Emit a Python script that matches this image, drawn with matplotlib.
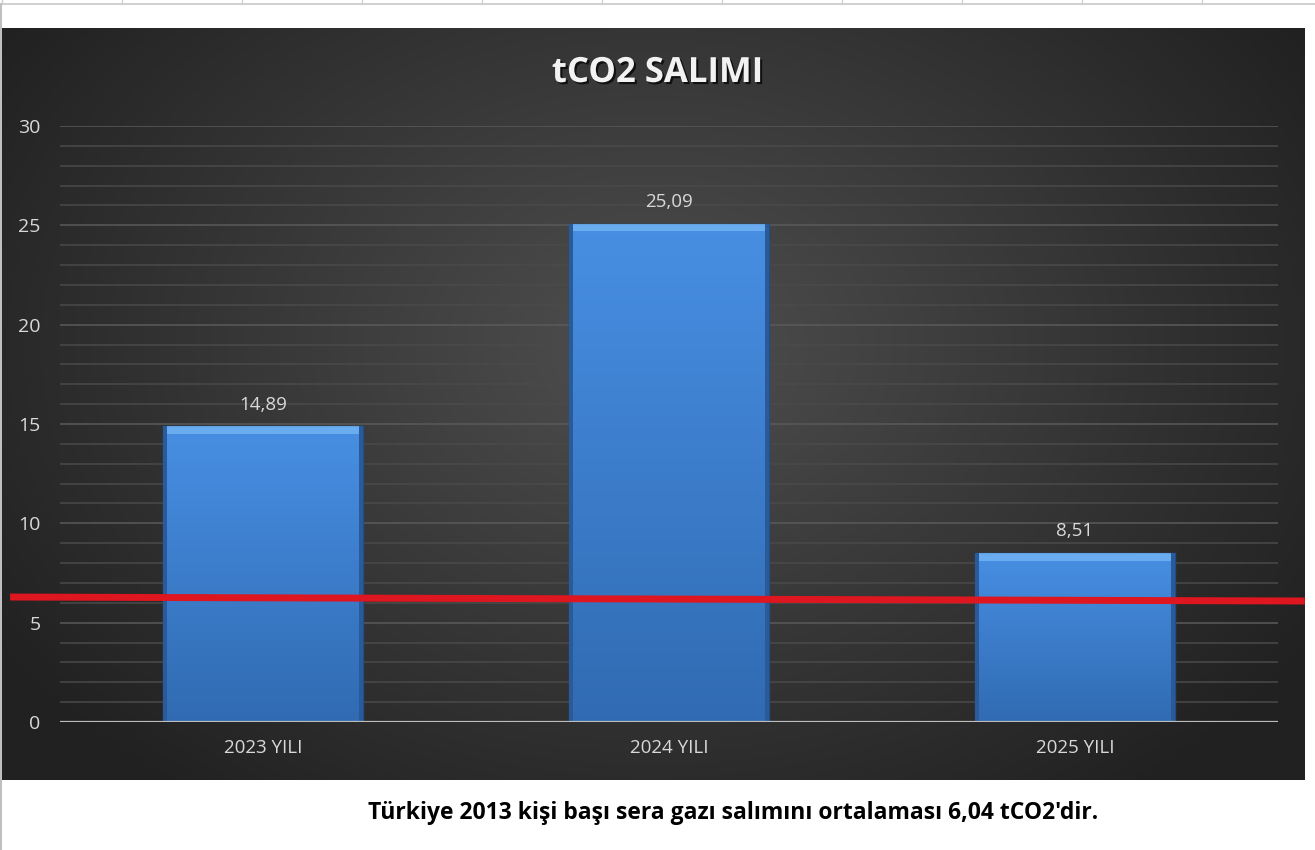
"""
tCO2 emissions per year, Excel-style dark chart with reference line.
"""
import numpy as np
import matplotlib
matplotlib.use("Agg")
import matplotlib.pyplot as plt
import matplotlib.patheffects as pe
from matplotlib.patches import Rectangle

plt.rcParams['font.family'] = ['Open Sans', 'DejaVu Sans']

CATEGORIES = ["2023 YILI", "2024 YILI", "2025 YILI"]
VALUES = [14.89, 25.09, 8.51]
VALUE_LABELS = ["14,89", "25,09", "8,51"]
Y_TICKS = [0, 5, 10, 15, 20, 25, 30]
# hand-drawn red line in the screenshot (left end, right end)
REF_LINE = [6.29, 6.09]
TITLE = "tCO2 SALIMI"
CAPTION = "Türkiye 2013 kişi başı sera gazı salımını ortalaması 6,04 tCO2'dir."

W, H = 1315, 850
fig = plt.figure(figsize=(W / 100, H / 100), dpi=100)
fig.patch.set_facecolor("white")

# spreadsheet strip at the very top
strip = fig.add_axes([0, 0, 1, 1], zorder=-5)
strip.set_xlim(0, W)
strip.set_ylim(H, 0)
strip.axis("off")
strip.plot([0, W], [4, 4], color="#c8c8c8", lw=1.2)
for xc in range(2, W, 120):
    strip.plot([xc, xc], [0, 4], color="#d0d0d0", lw=1)
strip.plot([1, 1], [4, H], color="#c0c0c0", lw=1.5)

# chart area with radial gradient
bg = fig.add_axes([2 / W, 1 - 780 / H, (1305 - 2) / W, (780 - 28) / H], zorder=-2)
gx, gy = np.meshgrid(np.linspace(-1, 1, 400), np.linspace(-1, 1, 260))
r = np.clip(np.sqrt((gx / 1.0) ** 2 + ((gy + 0.15) / 1.25) ** 2), 0, 1.2)
shade = 0.31 - 0.15 * r
bg.imshow(np.dstack([shade, shade, shade]), aspect="auto", extent=[0, 1, 0, 1],
          interpolation="bilinear")
bg.set_xlim(0, 1)
bg.set_ylim(0, 1)
bg.axis("off")

ax = fig.add_axes([60 / W, 1 - 722 / H, (1278 - 60) / W, (722 - 126) / H])
ax.patch.set_alpha(0)
x = np.arange(len(CATEGORIES))

# gridlines
for v in range(1, 31):
    col = "#5a5a5a" if v % 5 == 0 else "#4a4a4a"
    ax.axhline(v, color=col, lw=1.1, zorder=0)
ax.axhline(0, color="#bdbdbd", lw=1.6, zorder=3)

for s in ax.spines.values():
    s.set_visible(False)

# bars with vertical gradient + bevelled top
bw = 0.495
grad = np.linspace(0, 1, 200).reshape(-1, 1)
top_c = np.array([0.28, 0.56, 0.89])
bot_c = np.array([0.19, 0.42, 0.70])
grad_img = top_c * (1 - grad[..., None]) + bot_c * grad[..., None]
grad_img = grad_img.reshape(200, 1, 3)
for xi, v in zip(x, VALUES):
    rect = Rectangle((xi - bw / 2, 0), bw, v, facecolor="none",
                     edgecolor="#1f4f8a", lw=1.0, zorder=2)
    ax.add_patch(rect)
    im = ax.imshow(grad_img, aspect="auto", extent=[xi - bw / 2, xi + bw / 2, 0, v],
                   origin="upper", zorder=1.5, interpolation="bilinear")
    im.set_clip_path(rect)
    ax.add_patch(Rectangle((xi - bw / 2 + 0.01, v - 0.4), bw - 0.02, 0.4,
                           facecolor="#70b2f2", edgecolor="none", alpha=0.85, zorder=2.1))
    ax.add_patch(Rectangle((xi - bw / 2, 0), 0.012, v, facecolor="#2a5a98",
                           edgecolor="none", zorder=2.1))
    ax.add_patch(Rectangle((xi + bw / 2 - 0.012, 0), 0.012, v, facecolor="#2a5a98",
                           edgecolor="none", zorder=2.1))

ax.set_xlim(-0.5, len(CATEGORIES) - 0.5)
ax.set_ylim(0, 30)
ax.set_aspect("auto")

ax.set_yticks(Y_TICKS)
ax.set_yticklabels([str(t) for t in Y_TICKS])
ax.set_xticks(x)
ax.set_xticklabels(CATEGORIES)
ax.tick_params(axis="y", length=0, pad=14, labelsize=14, colors="#d9d9d9")
ax.tick_params(axis="x", length=0, pad=12, labelsize=13.5, colors="#d9d9d9")

for xi, v, lab in zip(x, VALUES, VALUE_LABELS):
    ax.annotate(lab, (xi, v), xytext=(0, 9), textcoords="offset points",
                ha="center", va="bottom", fontsize=13.5, color="#d9d9d9")

# red reference line drawn across the chart
ax.plot([-0.041, 1.022], REF_LINE, transform=ax.get_yaxis_transform(),
        color="#dd1620", lw=5, solid_capstyle="butt", clip_on=False, zorder=4)

# title with a soft shadow
fig.text(0.5, 1 - 73 / H, TITLE, ha="center", va="center",
         fontsize=25, fontweight="bold", color="#f2f2f2",
         path_effects=[pe.SimplePatchShadow(offset=(1.5, -1.5), shadow_rgbFace="black",
                                            alpha=0.7), pe.Normal()])

fig.text(733 / W, 1 - 813 / H, CAPTION, ha="center", va="center",
         fontsize=16.5, fontweight="bold", color="black")

fig.savefig("out.png", dpi=100)
